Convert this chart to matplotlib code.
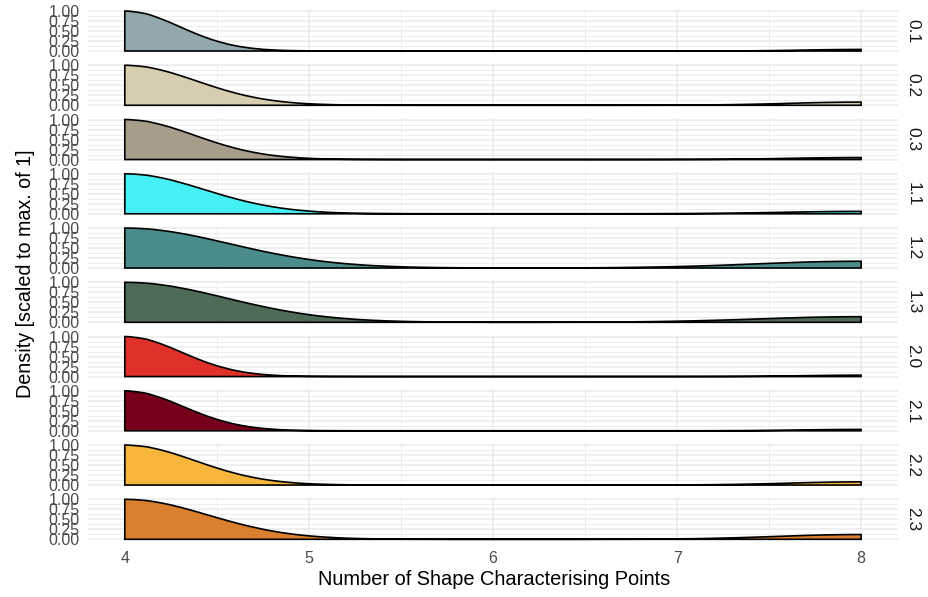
import numpy as np
import matplotlib
matplotlib.use("Agg")
import matplotlib.pyplot as plt
from matplotlib.path import Path
from matplotlib.patches import PathPatch
from matplotlib.ticker import MultipleLocator

# Evaluation points along the x axis
x_points = [4.0, 4.1, 4.2, 4.3, 4.4, 4.5, 4.6, 4.7, 4.8, 4.9, 5.0, 5.1, 5.2,
            5.3, 5.4, 5.5, 5.6, 5.8, 6.0, 6.2, 6.4, 6.6, 6.8, 7.0, 7.2, 7.4,
            7.6, 7.8, 8.0]

groups = ["0.1", "0.2", "0.3", "1.1", "1.2", "1.3", "2.0", "2.1", "2.2", "2.3"]

# Scaled densities (max = 1) per group
dens_01 = [1.00, .946, .799, .604, .408, .247, .133, .064, .028, .011, .004, .001, 0, 0, 0, 0, 0,
           0, 0, 0, 0, 0, 0, 0, .001, .005, .016, .032, .040]
dens_02 = [1.00, .968, .877, .744, .592, .440, .307, .200, .123, .070, .038, .019, .009, .004, .002, .001, 0,
           0, 0, 0, 0, 0, .001, .003, .010, .024, .047, .070, .080]
dens_03 = [1.00, .966, .869, .730, .571, .417, .284, .180, .106, .059, .030, .014, .006, .003, .001, 0, 0,
           0, 0, 0, 0, 0, 0, .002, .005, .014, .029, .043, .050]
dens_11 = [1.00, .973, .898, .784, .649, .509, .378, .266, .178, .112, .067, .038, .020, .010, .005, .002, .001,
           0, 0, 0, 0, 0, .001, .004, .011, .023, .039, .054, .060]
dens_12 = [1.00, .985, .940, .871, .782, .680, .575, .470, .373, .287, .214, .155, .109, .074, .049, .031, .019,
           .007, .002, .001, .003, .008, .019, .036, .063, .098, .133, .160, .170]
dens_13 = [1.00, .984, .936, .862, .768, .662, .551, .445, .347, .262, .191, .135, .093, .061, .039, .024, .014,
           .005, .001, .001, .002, .005, .013, .027, .049, .077, .108, .131, .140]
dens_20 = [1.00, .949, .811, .624, .432, .270, .152, .077, .035, .014, .005, .002, .001, 0, 0, 0, 0,
           0, 0, 0, 0, 0, 0, 0, .001, .005, .015, .028, .035]
dens_21 = [1.00, .951, .819, .638, .449, .287, .165, .086, .041, .017, .007, .002, .001, 0, 0, 0, 0,
           0, 0, 0, 0, 0, 0, 0, .001, .006, .016, .029, .035]
dens_22 = [1.00, .967, .873, .736, .580, .427, .294, .189, .113, .064, .033, .016, .007, .003, .001, 0, 0,
           0, 0, 0, 0, 0, 0, .003, .009, .024, .046, .070, .080]
dens_23 = [1.00, .976, .907, .802, .676, .542, .414, .301, .208, .137, .086, .052, .029, .016, .008, .004, .002,
           0, 0, 0, 0, .001, .003, .010, .025, .050, .081, .109, .120]

densities = [dens_01, dens_02, dens_03, dens_11, dens_12, dens_13,
             dens_20, dens_21, dens_22, dens_23]

fill_colors = ["#93A8AC", "#D7CEB0", "#A69E8A", "#45F0F5", "#4A8C8A",
               "#4E6B57", "#E0302A", "#76001A", "#F5B63B", "#DA7F2D"]

x_ticks = [4, 5, 6, 7, 8]
y_ticks = [0.0, 0.25, 0.5, 0.75, 1.0]
y_tick_labels = ["0.00", "0.25", "0.50", "0.75", "1.00"]


def pchip_slopes(x, y):
    """Shape-preserving tangents so the drawn curve never overshoots."""
    h = np.diff(x)
    d = np.diff(y) / h
    m = np.zeros_like(y)
    for k in range(1, len(y) - 1):
        if d[k - 1] * d[k] > 0:
            w1 = 2 * h[k] + h[k - 1]
            w2 = h[k] + 2 * h[k - 1]
            m[k] = (w1 + w2) / (w1 / d[k - 1] + w2 / d[k])
    for i0, (ha, hb, da, db) in ((0, (h[0], h[1], d[0], d[1])),
                                 (-1, (h[-1], h[-2], d[-1], d[-2]))):
        e = ((2 * ha + hb) * da - ha * db) / (ha + hb)
        if np.sign(e) != np.sign(da):
            e = 0.0
        elif np.sign(da) != np.sign(db) and abs(e) > abs(3 * da):
            e = 3 * da
        m[i0] = e
    return m


def density_patch(x, y, color):
    """Closed outline: baseline, smooth curve through the points, baseline."""
    x = np.asarray(x, float)
    y = np.asarray(y, float)
    m = pchip_slopes(x, y)
    verts = [(x[0], 0.0), (x[0], y[0])]
    codes = [Path.MOVETO, Path.LINETO]
    for i in range(len(x) - 1):
        h = x[i + 1] - x[i]
        verts += [(x[i] + h / 3, y[i] + m[i] * h / 3),
                  (x[i + 1] - h / 3, y[i + 1] - m[i + 1] * h / 3),
                  (x[i + 1], y[i + 1])]
        codes += [Path.CURVE4] * 3
    verts += [(x[-1], 0.0), (x[0], 0.0)]
    codes += [Path.LINETO, Path.CLOSEPOLY]
    return PathPatch(Path(verts, codes), facecolor=color, edgecolor="black",
                     linewidth=1.2, joinstyle="round", zorder=3)


plt.rcParams["font.family"] = ["Liberation Sans", "DejaVu Sans"]

fig, axes = plt.subplots(len(groups), 1, sharex=True, figsize=(9.29, 5.97), dpi=100)
fig.subplots_adjust(left=0.0947, right=0.9666, top=0.9849, bottom=0.0933, hspace=0.233)

grid_col = "#EBEBEB"
for ax, name, dens, col in zip(axes, groups, densities, fill_colors):
    ax.set_facecolor("white")
    ax.add_patch(density_patch(x_points, dens, col))
    ax.set_xlim(3.8, 8.2)
    ax.set_ylim(-0.05, 1.05)
    ax.set_yticks(y_ticks)
    ax.set_yticklabels(y_tick_labels)
    ax.yaxis.set_minor_locator(MultipleLocator(0.125))
    ax.xaxis.set_minor_locator(MultipleLocator(0.5))
    ax.set_xticks(x_ticks)
    ax.grid(which="major", color=grid_col, linewidth=1.1, zorder=0)
    ax.grid(which="minor", color=grid_col, linewidth=0.6, zorder=0)
    ax.set_axisbelow(True)
    for sp in ax.spines.values():
        sp.set_visible(False)
    ax.tick_params(which="both", length=0)
    ax.tick_params(axis="y", labelsize=11.5, labelcolor="#4D4D4D", pad=6)
    ax.tick_params(axis="x", labelsize=11.5, labelcolor="#4D4D4D", pad=7)
    ax.text(1.0185, 0.5, name, transform=ax.transAxes, rotation=-90,
            ha="center", va="center", fontsize=12.5, color="#1A1A1A")

axes[-1].set_xticklabels([str(t) for t in x_ticks])
fig.text(0.532, 0.030, "Number of Shape Characterising Points", ha="center",
         va="center", fontsize=14.4, color="black")
fig.text(0.027, 0.541, "Density [scaled to max. of 1]", ha="center",
         va="center", rotation=90, fontsize=14.2, color="black")

fig.savefig("out.png", dpi=100)
